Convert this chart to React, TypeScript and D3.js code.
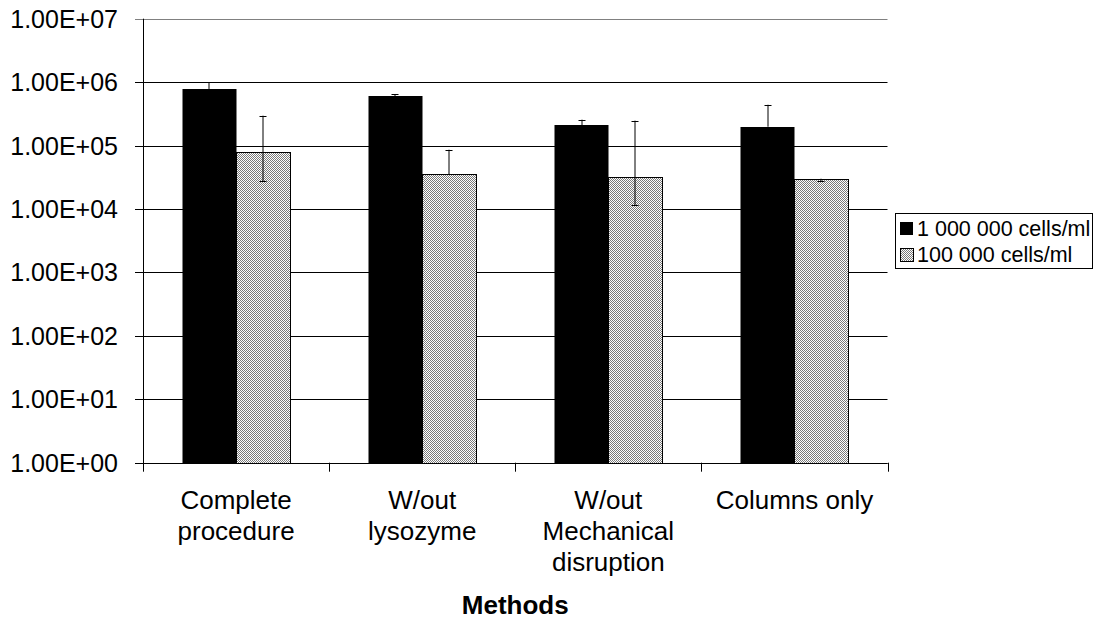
import React from "react";
import * as d3 from "d3";

// values (cells/ml, log axis)
const categories = ["Complete procedure", "W/out lysozyme", "W/out Mechanical disruption", "Columns only"];
const categoryLines = [["Complete", "procedure"], ["W/out", "lysozyme"], ["W/out", "Mechanical", "disruption"], ["Columns only"]];
const seriesNames = ["1 000 000 cells/ml", "100 000 cells/ml"];
const highValues = [7.8e5, 6.04e5, 2.09e5, 1.98e5];
const highErrUp = [1.0e6, 6.5e5, 2.56e5, 4.4e5];
const lowValues = [7.83e4, 3.52e4, 3.16e4, 2.94e4];
const lowErrUp = [2.96e5, 8.6e4, 2.47e5, 3.0e4];
const lowErrDown = [2.76e4, null, 1.16e4, 2.77e4];
const yTicks = [1, 10, 100, 1e3, 1e4, 1e5, 1e6, 1e7];

const font = "'Liberation Sans', Arial, sans-serif";

export default function App() {
  const left = 143, right = 887.5, top = 18.7, bottom = 462.7;

  const x0 = d3.scaleBand<string>().domain(categories).range([left, right]);
  const x1 = d3
    .scaleBand<string>()
    .domain(["high", "low"])
    .range([0, x0.bandwidth()])
    .paddingInner(0)
    .paddingOuter(0.74);
  const y = d3.scaleLog().domain([1, 1e7]).range([bottom, top]);

  const fmt = (v: number) => v.toExponential(2).toUpperCase().replace(/E\+(\d)$/, "E+0$1");

  const bars = categories.flatMap((c, i) => [
    { key: c + "h", x: x0(c)! + x1("high")!, v: highValues[i], up: highErrUp[i], down: null as number | null, fill: "#000" },
    { key: c + "l", x: x0(c)! + x1("low")!, v: lowValues[i], up: lowErrUp[i], down: lowErrDown[i], fill: "url(#dots)" },
  ]);

  const bw = x1.bandwidth();
  const cap = 3.5;

  return (
    <svg width={1097} height={620} style={{ position: "absolute", left: 0, top: 0, fontFamily: font }}>
      <defs>
        <pattern id="dots" width={2} height={2} patternUnits="userSpaceOnUse">
          <rect width={2} height={2} fill="#fff" />
          <rect width={1} height={1} fill="#7a7a7a" />
          <rect x={1} y={1} width={1} height={1} fill="#7a7a7a" />
        </pattern>
      </defs>
      <rect width={1097} height={620} fill="#fff" />

      {/* gridlines */}
      {yTicks.map((t) => (
        <line
          key={t}
          x1={left - 8}
          x2={right}
          y1={Math.round(y(t)) + 0.5}
          y2={Math.round(y(t)) + 0.5}
          stroke={t === 1e7 ? "#808080" : "#000"}
          strokeWidth={1}
        />
      ))}
      {yTicks.map((t) => (
        <text key={"l" + t} x={118} y={y(t)} dy="0.36em" textAnchor="end" fontSize={25} fill="#000">
          {fmt(t)}
        </text>
      ))}

      {/* bars */}
      {bars.map((b) => {
        const bx = Math.round(b.x);
        const by = Math.round(y(b.v));
        const w = Math.round(b.x + bw) - bx;
        return (
          <rect
            key={b.key}
            x={b.fill === "#000" ? bx : bx + 0.5}
            y={by + 0.5}
            width={w}
            height={Math.round(bottom) - by}
            fill={b.fill}
            stroke="#000"
            strokeWidth={1}
          />
        );
      })}

      {/* error bars */}
      {bars.map((b) => {
        const cx = Math.round(b.x + bw / 2);
        const yTop = y(b.up);
        const yBot = b.down == null ? y(b.v) : y(b.down);
        return (
          <g key={"e" + b.key} stroke="#000" strokeWidth={1}>
            <line x1={cx} x2={cx} y1={yTop} y2={yBot} />
            <line x1={cx - cap} x2={cx + cap} y1={Math.round(yTop) + 0.5} y2={Math.round(yTop) + 0.5} />
            {b.down != null && (
              <line x1={cx - cap} x2={cx + cap} y1={Math.round(yBot) + 0.5} y2={Math.round(yBot) + 0.5} />
            )}
          </g>
        );
      })}

      {/* axes */}
      <line x1={left + 0.5} x2={left + 0.5} y1={top} y2={bottom + 9} stroke="#000" />
      <line x1={left} x2={right} y1={Math.round(bottom) + 0.5} y2={Math.round(bottom) + 0.5} stroke="#000" />
      {categories.map((c) => (
        <line
          key={"t" + c}
          x1={Math.round(x0(c)! + x0.bandwidth()) + 0.5}
          x2={Math.round(x0(c)! + x0.bandwidth()) + 0.5}
          y1={bottom}
          y2={bottom + 9}
          stroke="#000"
        />
      ))}
      {categories.map((c, i) => (
        <text key={"c" + c} x={x0(c)! + x0.bandwidth() / 2} textAnchor="middle" fontSize={26} fill="#000">
          {categoryLines[i].map((ln, j) => (
            <tspan key={j} x={x0(c)! + x0.bandwidth() / 2} y={509 + j * 31}>
              {ln}
            </tspan>
          ))}
        </text>
      ))}
      <text x={(left + right) / 2} y={614} textAnchor="middle" fontSize={26} fontWeight="bold" fill="#000">
        Methods
      </text>

      {/* legend */}
      <rect x={895.5} y={213.5} width={197} height={55} fill="#fff" stroke="#000" />
      <rect x={900} y={222} width={13} height={13} fill="#000" />
      <rect x={900.5} y={248.5} width={13} height={13} fill="url(#dots)" stroke="#000" />
      {seriesNames.map((s, i) => (
        <text key={s} x={917} y={236 + i * 26} fontSize={21.5} fill="#000">
          {s}
        </text>
      ))}
    </svg>
  );
}
